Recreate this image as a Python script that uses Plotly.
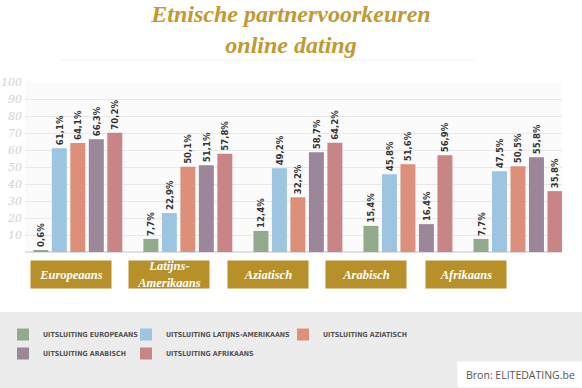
import plotly.graph_objects as go

categories = ["Europeaans", "Latijns-Amerikaans", "Aziatisch", "Arabisch", "Afrikaans"]
category_labels = ["Europeaans", "Latijns-<br>Amerikaans", "Aziatisch", "Arabisch", "Afrikaans"]
series_names = [
    "UITSLUITING EUROPEAANS",
    "UITSLUITING LATIJNS-AMERIKAANS",
    "UITSLUITING AZIATISCH",
    "UITSLUITING ARABISCH",
    "UITSLUITING AFRIKAANS",
]
excl_europeaans = [0.6, 7.7, 12.4, 15.4, 7.7]
excl_latijns = [61.1, 22.9, 49.2, 45.8, 47.5]
excl_aziatisch = [64.1, 50.1, 32.2, 51.6, 50.5]
excl_arabisch = [66.3, 51.1, 58.7, 16.4, 55.8]
excl_afrikaans = [70.2, 57.8, 64.2, 56.9, 35.8]
series_values = [excl_europeaans, excl_latijns, excl_aziatisch, excl_arabisch, excl_afrikaans]
colors = ["#93a98c", "#9dc4e0", "#dc9079", "#9b869a", "#c98585"]
# legend columns: col1 -> legend3, col2 -> legend2, col3 -> legend (draw order keeps text visible)
legend_ids = ["legend3", "legend2", "legend", "legend3", "legend2"]
y_ticks = [10, 20, 30, 40, 50, 60, 70, 80, 90, 100]

W, H = 582, 388
L, R, T, B = 25, 20, 82, 136
pw = W - L - R
ph = H - T - B


def px_x(p):
    return (p - L) / pw


def px_y(p):
    return (H - B - p) / ph


fig = go.Figure()
for name, vals, col, lg in zip(series_names, series_values, colors, legend_ids):
    fig.add_trace(go.Bar(
        x=categories, y=vals, name=name, legend=lg,
        marker=dict(color=col, line=dict(width=0)),
        texttemplate="%{y:.1f}%", textposition="outside", textangle=-90,
        textfont=dict(family="DejaVu Sans Condensed", size=9.5, color="#333333", weight="bold"),
        constraintext="none", cliponaxis=False,
    ))

shapes = [
    dict(type="rect", xref="paper", yref="paper",
         x0=px_x(0), x1=px_x(W), y0=px_y(H), y1=px_y(312),
         fillcolor="#ececec", line=dict(width=0), layer="below"),
    dict(type="line", xref="paper", yref="paper",
         x0=px_x(60), x1=px_x(475), y0=px_y(60), y1=px_y(60),
         line=dict(color="#f0f0f0", width=1)),
]

annotations = []
box_centers = [70.5, 168.5, 267.5, 366, 465.5]
for lab, cx in zip(category_labels, box_centers):
    annotations.append(dict(
        text="<b><i>" + lab + "</i></b>", xref="paper", yref="paper",
        x=px_x(cx), y=px_y(274.5), xanchor="center", yanchor="middle",
        showarrow=False, width=80, height=27, bgcolor="#b89029", borderpad=0,
        font=dict(family="Liberation Serif", size=12.5, color="#ffffff"),
    ))
annotations.append(dict(
    text="Bron: ELITEDATING.be", xref="paper", yref="paper",
    x=px_x(457), y=px_y(388), xanchor="left", yanchor="bottom",
    showarrow=False, width=125, height=25, bgcolor="#ffffff", borderpad=0, align="center",
    font=dict(family="Open Sans", size=10.5, color="#555555"),
))

legend_font = dict(family="DejaVu Sans Condensed", size=7, color="#555555", weight="bold")
common_leg = dict(orientation="v", yanchor="top", xanchor="left", bgcolor="rgba(0,0,0,0)",
                  tracegroupgap=0, itemwidth=30, font=legend_font, y=px_y(320))

fig.update_layout(
    width=W, height=H,
    margin=dict(l=L, r=R, t=T, b=B, autoexpand=False),
    paper_bgcolor="#ffffff", plot_bgcolor="#fbfbfb",
    separators=",.",
    barmode="group", bargap=0.16, bargroupgap=0.19,
    title=dict(text="<b><i>Etnische partnervoorkeuren<br>online dating</i></b>",
               x=0.5, xref="container", xanchor="center", yref="container",
               y=1 - 22 / H, yanchor="middle",
               font=dict(family="Liberation Serif", size=24, color="#c09a33")),
    xaxis=dict(range=[-0.48, 4.4], showticklabels=False, showgrid=False, zeroline=False,
               showline=False, ticks="", automargin=False),
    yaxis=dict(range=[0, 100], tickvals=y_ticks, showgrid=True, gridcolor="#e8e8e8",
               gridwidth=1, zeroline=True, zerolinecolor="#e0e0e0", showline=False,
               ticks="", ticklabelstandoff=2, automargin=False,
               tickfont=dict(family="DejaVu Serif", size=11, color="#d2d2d2", style="italic")),
    showlegend=True,
    legend3=dict(common_leg, x=px_x(3)),
    legend2=dict(common_leg, x=px_x(126)),
    legend=dict(common_leg, x=px_x(283)),
    shapes=shapes, annotations=annotations,
)
fig.write_html("out.html", config={"displayModeBar": False},
               post_script="document.body.style.margin='0';document.body.style.overflow='hidden';")
